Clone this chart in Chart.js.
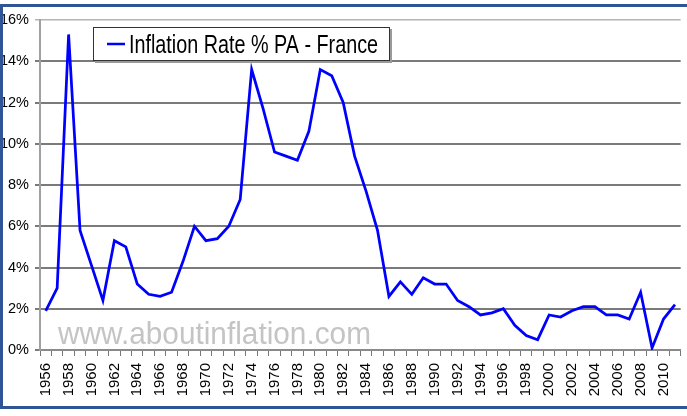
<!DOCTYPE html>
<html>
<head>
<meta charset="utf-8">
<script src="https://cdn.jsdelivr.net/npm/chart.js@4.4.1/dist/chart.umd.min.js"></script>
<style>
html,body{margin:0;padding:0;background:#fff;overflow:hidden;width:687px;height:416px;}
canvas{display:block;}
</style>
</head>
<body>
<canvas id="c" width="700" height="416"></canvas>
<script>
const years = ['1956','1957','1958','1959','1960','1961','1962','1963','1964','1965',
  '1966','1967','1968','1969','1970','1971','1972','1973','1974','1975',
  '1976','1977','1978','1979','1980','1981','1982','1983','1984','1985',
  '1986','1987','1988','1989','1990','1991','1992','1993','1994','1995',
  '1996','1997','1998','1999','2000','2001','2002','2003','2004','2005',
  '2006','2007','2008','2009','2010','2011'];
const inflation = [1.9,3.0,15.3,5.8,4.1,2.4,5.3,5.0,3.2,2.7,
  2.6,2.8,4.3,6.0,5.3,5.4,6.0,7.3,13.6,11.7,
  9.6,9.4,9.2,10.6,13.6,13.3,12.0,9.4,7.7,5.8,
  2.6,3.3,2.7,3.5,3.2,3.2,2.4,2.1,1.7,1.8,
  2.0,1.2,0.7,0.5,1.7,1.6,1.9,2.1,2.1,1.7,
  1.7,1.5,2.8,0.1,1.5,2.2];
const seriesName = 'Inflation Rate % PA - France';
const watermark = 'www.aboutinflation.com';
const yTicks = [0,2,4,6,8,10,12,14,16];

const FONT = "'Liberation Sans', Arial, sans-serif";

function drawScaledText(ctx, text, x, baseline, fontPx, targetW, color) {
  ctx.save();
  ctx.font = fontPx + 'px ' + FONT;
  const w = ctx.measureText(text).width;
  const s = targetW / w;
  ctx.translate(x, baseline);
  ctx.scale(s, 1);
  ctx.fillStyle = color;
  ctx.textAlign = 'left';
  ctx.textBaseline = 'alphabetic';
  ctx.fillText(text, 0, 0);
  ctx.restore();
}

const decor = {
  id: 'decor',
  beforeDatasetsDraw(chart) {
    const ctx = chart.ctx;
    drawScaledText(ctx, watermark, 58, 344, 32, 313, '#c4c4c4');
  },
  afterDatasetsDraw(chart) {
    const ctx = chart.ctx;
    ctx.save();
    ctx.fillStyle = '#9a9a9a';
    ctx.fillRect(95, 29, 297, 34);
    ctx.fillStyle = '#ffffff';
    ctx.fillRect(93, 27, 297, 34);
    ctx.strokeStyle = '#333333';
    ctx.lineWidth = 1;
    ctx.strokeRect(93.5, 27.5, 296, 33);
    ctx.strokeStyle = '#0000ff';
    ctx.lineWidth = 2.5;
    ctx.beginPath();
    ctx.moveTo(107, 44);
    ctx.lineTo(125, 44);
    ctx.stroke();
    ctx.restore();
    drawScaledText(ctx, seriesName, 129, 53, 25, 249, '#000000');
  },
  afterDraw(chart) {
    const ctx = chart.ctx;
    ctx.save();
    ctx.strokeStyle = '#2F5597';
    ctx.lineWidth = 3;
    ctx.strokeRect(1.5, 5.5, 740, 402);
    ctx.restore();
  }
};

new Chart(document.getElementById('c'), {
  type: 'line',
  data: {
    labels: years,
    datasets: [{
      label: seriesName,
      data: inflation,
      borderColor: '#0000ff',
      borderWidth: 2.75,
      pointRadius: 0,
      tension: 0,
      fill: false
    }]
  },
  options: {
    responsive: false,
    maintainAspectRatio: false,
    animation: false,
    devicePixelRatio: 1,
    layout: { padding: { top: 20, right: 5, left: 0, bottom: 0 } },
    plugins: { legend: { display: false }, tooltip: { enabled: false } },
    scales: {
      x: {
        type: 'category',
        offset: true,
        afterFit(scale) { scale.height = 66; },
        grid: {
          offset: true,
          drawOnChartArea: false,
          drawTicks: true,
          tickLength: 6,
          color: '#777777',
          lineWidth: 1
        },
        border: { display: true, color: '#8a8a8a', width: 2 },
        ticks: {
          autoSkip: false,
          maxRotation: 90,
          minRotation: 90,
          padding: 7,
          color: '#000000',
          font: { family: FONT, size: 15 },
          callback(value, index) {
            const y = parseInt(years[index], 10);
            return (y % 2 === 0) ? years[index] : '';
          }
        }
      },
      y: {
        min: 0,
        max: 16,
        afterFit(scale) { scale.width = 40; },
        afterBuildTicks(scale) { scale.ticks = yTicks.map(v => ({ value: v })); },
        grid: {
          drawTicks: true,
          tickLength: 5,
          color(ctx) { return ctx.tick && ctx.tick.value === 16 ? '#b4b4b4' : '#7a7a7a'; },
          lineWidth(ctx) { return ctx.tick && ctx.tick.value === 16 ? 1.5 : 2; }
        },
        border: { display: true, color: '#a0a0a0', width: 2 },
        ticks: {
          padding: 6,
          color: '#000000',
          font: { family: FONT, size: 14.5 },
          callback(v) { return v + '%'; }
        }
      }
    }
  },
  plugins: [decor]
});
</script>
</body>
</html>
